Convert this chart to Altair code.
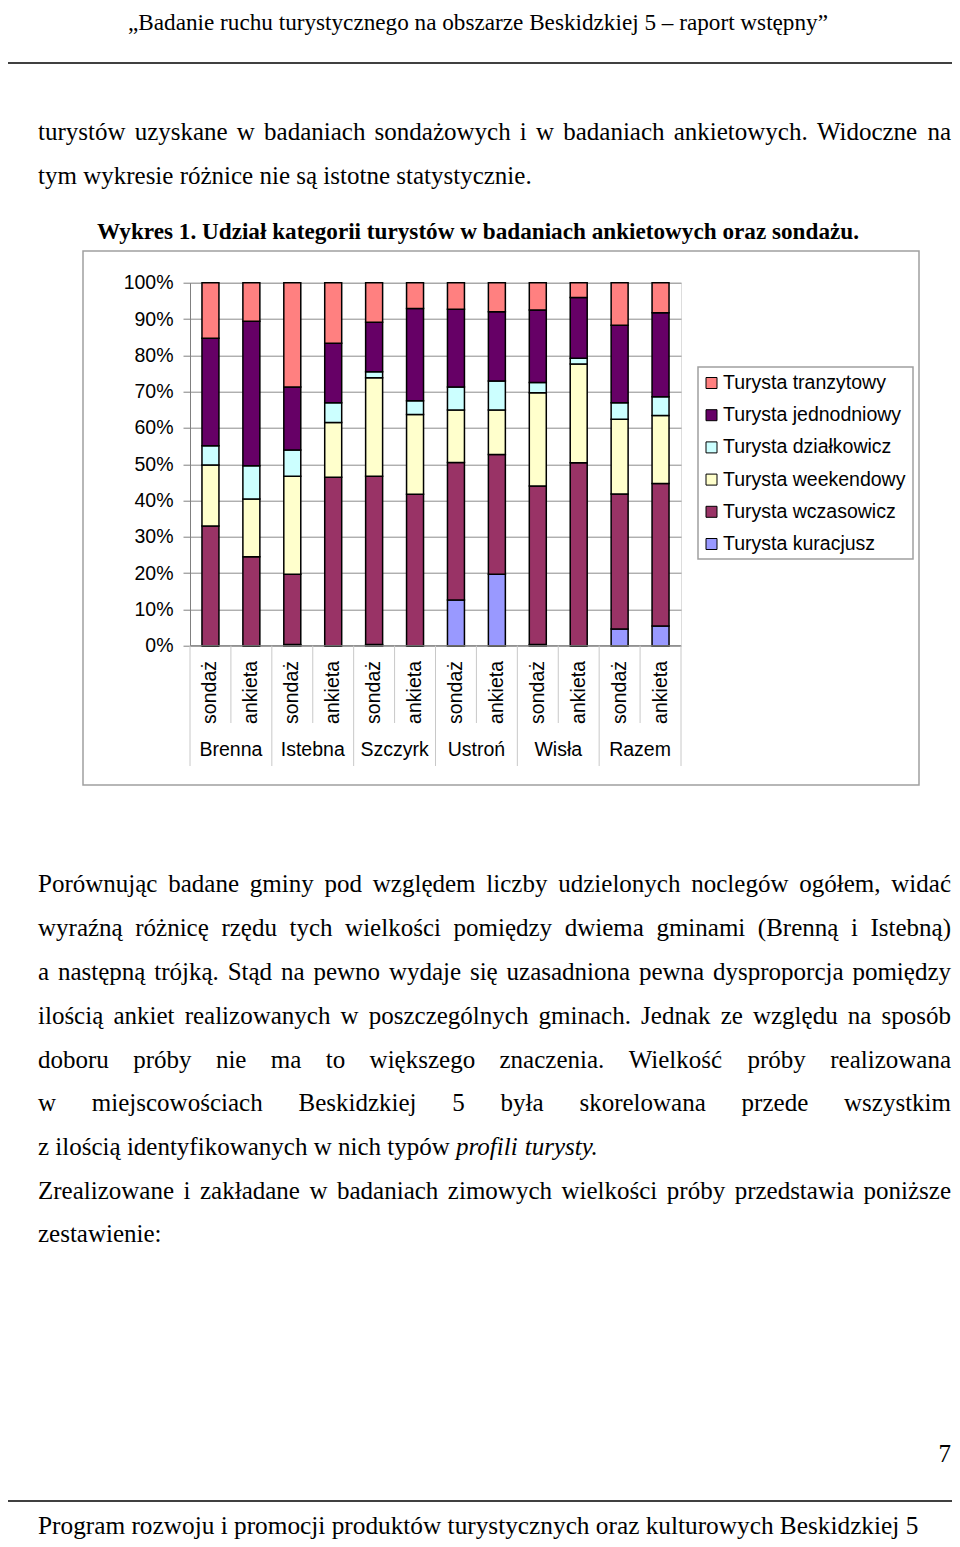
import altair as alt
import pandas as pd

# ---------------- chart data ----------------
places = ["Brenna", "Istebna", "Szczyrk", "Ustroń", "Wisła", "Razem"]
methods = ["sondaż", "ankieta"]
series = ["Turysta tranzytowy", "Turysta jednodniowy", "Turysta działkowicz",
          "Turysta weekendowy", "Turysta wczasowicz", "Turysta kuracjusz"]
colors = ["#FF8080", "#660066", "#CCFFFF", "#FFFFCC", "#993366", "#9999FF"]

# percent shares, bars in order: Brenna sondaż, Brenna ankieta, Istebna sondaż, ...
kuracjusz   = [0.0, 0.0, 0.3, 0.0, 0.3, 0.0, 12.6, 19.7, 0.3, 0.0, 4.6, 5.4]
wczasowicz  = [33.0, 24.5, 19.4, 46.4, 46.4, 41.7, 37.9, 33.0, 43.7, 50.4, 37.2, 39.3]
weekendowy  = [16.8, 15.9, 27.0, 15.1, 27.1, 22.0, 14.4, 12.2, 25.7, 27.2, 20.6, 18.7]
dzialkowicz = [5.3, 9.2, 7.2, 5.4, 1.7, 3.8, 6.4, 8.0, 2.8, 1.6, 4.5, 5.2]
jednodniowy = [29.6, 39.8, 17.4, 16.4, 13.6, 25.4, 21.4, 19.1, 20.0, 16.7, 21.4, 23.1]
tranzytowy  = [15.3, 10.6, 28.7, 16.7, 10.9, 7.1, 7.3, 8.0, 7.5, 4.1, 11.7, 8.3]

y_ticks = list(range(0, 101, 10))

# ---------------- page text ----------------
header_text = "„Badanie ruchu turystycznego na obszarze Beskidzkiej 5 – raport wstępny”"
title_text = "Wykres 1. Udział kategorii turystów w badaniach ankietowych oraz sondażu."
footer_text = "Program rozwoju i promocji produktów turystycznych oraz kulturowych Beskidzkiej 5"
page_no = "7"
top_lines = [
    ("turystów uzyskane w badaniach sondażowych i w badaniach ankietowych. Widoczne na", True),
    ("tym wykresie różnice nie są istotne statystycznie.", False),
]
body_lines = [
    ("Porównując badane gminy pod względem liczby udzielonych noclegów ogółem, widać", True),
    ("wyraźną różnicę rzędu tych wielkości pomiędzy dwiema gminami (Brenną i Istebną)", True),
    ("a następną trójką. Stąd na pewno wydaje się uzasadniona pewna dysproporcja pomiędzy", True),
    ("ilością ankiet realizowanych w poszczególnych gminach. Jednak ze względu na sposób", True),
    ("doboru próby nie ma to większego znaczenia. Wielkość próby realizowana", True),
    ("w miejscowościach Beskidzkiej 5 była skorelowana przede wszystkim", True),
    ("z ilością identyfikowanych w nich typów *profili *turysty.", False),
    ("Zrealizowane i zakładane w badaniach zimowych wielkości próby przedstawia poniższe", True),
    ("zestawienie:", False),
]

# ---------------- layout helpers ----------------
W, H = 491, 363
OX, OY = 190.0, 282.7      # page position of plot origin
PAGE_W, PAGE_H = 944, 1531


def rx(x):
    return x - OX


def ry(y):
    return y - OY


TIMES = {}
for c, w in zip("abcdefghijklmnopqrstuvwxyz",
                [444, 500, 444, 500, 444, 333, 500, 500, 278, 278, 500, 278, 778,
                 500, 500, 500, 500, 333, 389, 278, 500, 500, 722, 500, 500, 444]):
    TIMES[c] = w
for c, w in zip("ABCDEFGHIJKLMNOPQRSTUVWXYZ",
                [722, 667, 667, 722, 611, 556, 722, 722, 333, 389, 722, 611, 889,
                 722, 722, 556, 722, 667, 556, 611, 722, 722, 944, 722, 722, 611]):
    TIMES[c] = w
TIMES.update({"ą": 444, "ć": 444, "ę": 444, "ł": 278, "ń": 500, "ó": 500, "ś": 389,
              "ź": 444, "ż": 444, "Ł": 611, "Ś": 556, "Ż": 611, " ": 250, ".": 250,
              ",": 250, ":": 278, "(": 333, ")": 333, "–": 500, "„": 444, "”": 444})
for d in "0123456789":
    TIMES[d] = 500


def tw(s, size):
    return sum(TIMES.get(ch, 500) for ch in s) * size / 1000.0


BODY_SIZE = 25
LEFT, RIGHT = 38, 951


def layout(lines, baselines, size=BODY_SIZE):
    rows = []
    for (text, justify), base in zip(lines, baselines):
        words = text.split(" ")
        clean = [w.replace("*", "") for w in words]
        widths = [tw(w, size) for w in clean]
        if justify and len(words) > 1:
            gap = (RIGHT - LEFT - sum(widths)) / (len(words) - 1)
        else:
            gap = tw(" ", size)
        x = LEFT
        for w, c, wd in zip(words, clean, widths):
            rows.append({"w": c, "x": rx(x), "y": ry(base),
                         "italic": w.startswith("*")})
            x += wd + gap
    return pd.DataFrame(rows)


words_df = pd.concat([
    layout(top_lines, [140, 184]),
    layout(body_lines, [892, 936, 980, 1024, 1068, 1111, 1155, 1199, 1242]),
], ignore_index=True)

# ---------------- chart table ----------------
bar_keys = [f"{p} {m}" for p in places for m in methods]
stack_order = ["Turysta kuracjusz", "Turysta wczasowicz", "Turysta weekendowy",
               "Turysta działkowicz", "Turysta jednodniowy", "Turysta tranzytowy"]
vals = {"Turysta kuracjusz": kuracjusz, "Turysta wczasowicz": wczasowicz,
        "Turysta weekendowy": weekendowy, "Turysta działkowicz": dzialkowicz,
        "Turysta jednodniowy": jednodniowy, "Turysta tranzytowy": tranzytowy}
rows = []
for i, k in enumerate(bar_keys):
    for o, s in enumerate(stack_order):
        rows.append({"bar": k, "series": s, "value": vals[s][i], "order": o})
df = pd.DataFrame(rows)

xband = alt.Scale(domain=bar_keys, paddingInner=0.585, paddingOuter=0.2925)
cscale = alt.Scale(domain=series, range=colors)
SANS = "Liberation Sans"
SERIF = "Liberation Serif"
CH_SIZE = 19.5

frame_df = pd.DataFrame({"x1": [rx(83), rx(698)], "x2": [rx(919), rx(913)],
                         "y1": [ry(251), ry(367)], "y2": [ry(785), ry(559)]})
frames = alt.Chart(frame_df).mark_rect(fillOpacity=0, stroke="#a0a0a0", strokeWidth=1.5).encode(
    x=alt.X("x1:Q", scale=None, axis=None), x2="x2:Q",
    y=alt.Y("y1:Q", scale=None, axis=None), y2="y2:Q")

bars = alt.Chart(df).mark_bar(stroke="black", strokeWidth=1.5).encode(
    x=alt.X("bar:N", sort=bar_keys, scale=xband, axis=None),
    y=alt.Y("value:Q", stack="zero", scale=alt.Scale(domain=[0, 100], nice=False),
            axis=alt.Axis(values=y_ticks, labelExpr="datum.value + '%'", title=None,
                          grid=True, gridColor="#8c8c8c", gridWidth=1,
                          domainColor="#808080", tickColor="#808080", tickSize=7,
                          labelPadding=10, labelFont=SANS, labelFontSize=CH_SIZE,
                          labelColor="black")),
    color=alt.Color("series:N", scale=cscale, legend=None),
    order=alt.Order("order:Q"),
)

base_rule = alt.Chart(pd.DataFrame({"a": [0]})).mark_rule(color="#808080", strokeWidth=1).encode(
    x=alt.value(0), x2=alt.value(W), y=alt.value(H))

sep_df = pd.DataFrame({"pos": list(range(13)),
                       "y1": [H] * 13,
                       "y2": [ry(766) if i % 2 == 0 else ry(723) for i in range(13)]})
seps = alt.Chart(sep_df).mark_rule(color="#c8c8c8", strokeWidth=1).encode(
    x=alt.X("pos:Q", scale=alt.Scale(domain=[0, 12], nice=False, zero=False), axis=None),
    y=alt.Y("y1:Q", scale=None, axis=None), y2="y2:Q")

lab_df = pd.DataFrame({"bar": bar_keys, "method": [m for p in places for m in methods]})
method_text = alt.Chart(lab_df).mark_text(angle=270, align="right", baseline="middle",
                                          font=SANS, fontSize=CH_SIZE, color="black").encode(
    x=alt.X("bar:N", sort=bar_keys, scale=xband, axis=None),
    y=alt.value(ry(661)),
    text="method:N")

grp_text = alt.Chart(pd.DataFrame({"place": places})).mark_text(
    baseline="middle", align="center", font=SANS, fontSize=CH_SIZE, color="black").encode(
    x=alt.X("place:N", sort=places,
            scale=alt.Scale(domain=places, paddingInner=0, paddingOuter=0), axis=None),
    y=alt.value(ry(750)),
    text="place:N")

leg_df = pd.DataFrame({"series": series})
leg_df["cy"] = [ry(383 + i * 32.2) for i in range(len(series))]
leg_df["y1"] = leg_df["cy"] - 5.5
leg_df["y2"] = leg_df["cy"] + 5.5
leg_df["x1"] = rx(706)
leg_df["x2"] = rx(717)
leg_df["tx"] = rx(723)
swatches = alt.Chart(leg_df).mark_rect(stroke="black", strokeWidth=1).encode(
    x=alt.X("x1:Q", scale=None, axis=None), x2="x2:Q",
    y=alt.Y("y1:Q", scale=None, axis=None), y2="y2:Q",
    color=alt.Color("series:N", scale=cscale, legend=None))
leg_text = alt.Chart(leg_df).mark_text(align="left", baseline="middle", font=SANS,
                                       fontSize=CH_SIZE, color="black").encode(
    x=alt.X("tx:Q", scale=None, axis=None),
    y=alt.Y("cy:Q", scale=None, axis=None),
    text="series:N")

rule_df = pd.DataFrame({"x1": [rx(2), rx(2)], "x2": [rx(953), rx(953)],
                        "y": [ry(63), ry(1501)]})
page_rules = alt.Chart(rule_df).mark_rule(color="black", strokeWidth=1.5).encode(
    x=alt.X("x1:Q", scale=None, axis=None), x2="x2:Q",
    y=alt.Y("y:Q", scale=None, axis=None))

normal_words = alt.Chart(words_df[~words_df["italic"]]).mark_text(
    align="left", baseline="alphabetic", font=SERIF, fontSize=BODY_SIZE, color="black").encode(
    x=alt.X("x:Q", scale=None, axis=None), y=alt.Y("y:Q", scale=None, axis=None), text="w:N")
italic_words = alt.Chart(words_df[words_df["italic"]]).mark_text(
    align="left", baseline="alphabetic", font=SERIF, fontSize=BODY_SIZE, fontStyle="italic",
    color="black").encode(
    x=alt.X("x:Q", scale=None, axis=None), y=alt.Y("y:Q", scale=None, axis=None), text="w:N")


def single_text(txt, x, y, size, align="left", weight="normal"):
    d = pd.DataFrame({"t": [txt], "x": [rx(x)], "y": [ry(y)]})
    return alt.Chart(d).mark_text(align=align, baseline="alphabetic", font=SERIF,
                                  fontSize=size, fontWeight=weight, color="black").encode(
        x=alt.X("x:Q", scale=None, axis=None), y=alt.Y("y:Q", scale=None, axis=None),
        text="t:N")


header = single_text(header_text, 478, 30, 23.2, align="center")
title = single_text(title_text, 97, 239, 23.2, weight="bold")
footer = single_text(footer_text, 38, 1534, 25.3)
pnum = single_text(page_no, 951, 1462, 25, align="right")

chart = alt.layer(
    frames, bars, base_rule, seps, method_text, grp_text, swatches, leg_text,
    page_rules, normal_words, italic_words, header, title, footer, pnum,
).resolve_scale(
    x="independent", y="independent"
).properties(
    width=W, height=H,
    autosize=alt.AutoSizeParams(type="none"),
    padding={"left": OX - 8, "top": OY - 8,
             "right": PAGE_W - (OX - 8) - W, "bottom": PAGE_H - (OY - 8) - H},
).configure_view(
    fill="#C0C0C0", stroke=None
).configure(
    background="white"
)

chart.save("out.html", embed_options={"renderer": "svg", "actions": False})
